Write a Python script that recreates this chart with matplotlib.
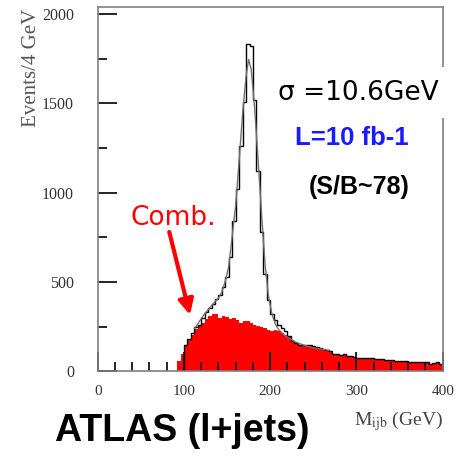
import numpy as np
import matplotlib
matplotlib.use("Agg")
from matplotlib import pyplot as plt
from matplotlib.ticker import MultipleLocator

# bin width 4 GeV
bin_width = 4

# combinatorial background (red), bins starting at 92 GeV
comb_start = 92
comb = [60, 100, 140, 175, 205, 235, 255, 270, 295, 310,
        320, 322, 300, 312, 305, 295, 300, 285, 272, 283,
        280, 272, 262, 256, 248, 240, 230, 228, 230, 228,
        215, 205, 195, 170, 155, 145, 144, 150, 145, 140,
        133, 125, 122, 118, 111, 96, 92, 90, 98, 86,
        84, 78, 75, 72, 72, 73, 72, 72, 70, 68,
        63, 64, 60, 58, 59, 57, 56, 55, 52, 53,
        52, 50, 51, 42, 45, 50, 42]

# total (signal + combinatorial), bins starting at 100 GeV
total_start = 100
total = [145, 180, 212, 248, 262, 300, 330, 352, 378, 405,
         428, 470, 530, 640, 840, 1020, 1260, 1505, 1830, 1820,
         1520, 1120, 780, 545, 400, 320, 290, 258, 240, 228,
         200, 172, 158, 150, 150, 146, 145, 140, 135, 130,
         128, 122, 112, 100, 95, 92, 98, 88, 85, 80,
         76, 73, 73, 74, 73, 72, 72, 70, 66, 65,
         62, 58, 59, 57, 56, 55, 53, 53, 52, 50,
         51, 43, 45, 50, 42]

# fitted curve
fit_x = [112, 116, 120, 124, 128, 132, 136, 140, 144, 148, 152, 156, 160,
         164, 168, 172, 175, 178, 182, 186, 190, 194, 198, 202, 206, 210,
         216, 222, 230, 240, 250, 260, 268]
fit_y = [240, 265, 295, 322, 345, 368, 390, 410, 445, 505, 590, 760, 930,
         1180, 1440, 1650, 1745, 1690, 1470, 1180, 880, 600, 420, 320, 265, 232,
         205, 185, 163, 145, 132, 124, 118]

comb_edges = comb_start + bin_width * np.arange(len(comb) + 1)
total_edges = total_start + bin_width * np.arange(len(total) + 1)

plt.rcParams["mathtext.fontset"] = "stix"

fig = plt.figure(figsize=(4.65, 4.57), dpi=100)
ax = fig.add_axes([97.7 / 465, 1 - 371.4 / 457, 345 / 465, 364.7 / 457])

ax.stairs(comb, comb_edges, fill=True, color="#ff0000", zorder=1)
ax.stairs(total, total_edges, color="black", lw=1.0, baseline=0, zorder=1.1)
ax.plot(fit_x, fit_y, color="#707070", lw=1.0, zorder=1.2)
ax.set_axisbelow(False)

ax.set_xlim(0, 400)
ax.set_ylim(0, 2040)

# ticks pointing in, drawn over the histogram
ax.xaxis.set_major_locator(MultipleLocator(100))
ax.xaxis.set_minor_locator(MultipleLocator(20))
ax.yaxis.set_major_locator(MultipleLocator(500))
ax.yaxis.set_minor_locator(MultipleLocator(250))
ax.xaxis.set_tick_params(which="major", direction="in", length=13.5, width=1.2,
                         color="black", pad=10, labelcolor="#333333", labelsize=11)
ax.xaxis.set_tick_params(which="minor", direction="in", length=6.8, width=1.2,
                         color="black")
ax.yaxis.set_tick_params(which="major", direction="in", length=13.5, width=1.2,
                         color="black", pad=17, labelcolor="#333333", labelsize=11.5)
ax.yaxis.set_tick_params(which="minor", direction="in", length=6.8, width=1.2,
                         color="black")
for lab in ax.get_xticklabels() + ax.get_yticklabels():
    lab.set_fontfamily("Liberation Serif")
for sp in ax.spines.values():
    sp.set_color("#808080")
    sp.set_linewidth(1.2)
    sp.set_zorder(4)

# axis titles
fig.text(32 / 465, 1 - 9 / 457, "Events/4 GeV", rotation=90, ha="center", va="top",
         fontfamily="Liberation Serif", fontsize=15, color="#555555")
fig.text(443 / 465, 1 - 425 / 457, r"M$_{\mathrm{ijb}}$ (GeV)", ha="right", va="baseline",
         fontfamily="Liberation Serif", fontsize=14, color="#444444")

# annotations
ax.text(302, 1558, "σ =10.6GeV", ha="center", va="center", fontsize=19,
        fontfamily="DejaVu Sans", color="black", zorder=5,
        bbox=dict(fc="white", ec="none", pad=9))
ax.text(295, 1306, "L=10 fb-1", ha="center", va="center", fontsize=18.5,
        fontfamily="Liberation Sans", fontweight="bold", color="#1a1aff", zorder=5)
ax.text(303, 1032, "(S/B~78)", ha="center", va="center", fontsize=18,
        fontfamily="Liberation Sans", fontweight="bold", color="black", zorder=5)
ax.text(88, 858, "Comb.", ha="center", va="center", fontsize=19,
        fontfamily="DejaVu Sans", color="#ff0000", zorder=5)
ax.annotate("", xy=(107, 316), xytext=(83, 780), zorder=5, annotation_clip=False,
            arrowprops=dict(arrowstyle="-|>,head_length=0.9,head_width=0.45",
                            color="#ff0000", lw=3, shrinkA=0, shrinkB=0))

fig.text(182.5 / 465, 1 - 431 / 457, "ATLAS (l+jets)", ha="center", va="center",
         fontfamily="Liberation Sans", fontweight="bold", fontsize=27, color="black")

fig.savefig("out.png", dpi=100)
